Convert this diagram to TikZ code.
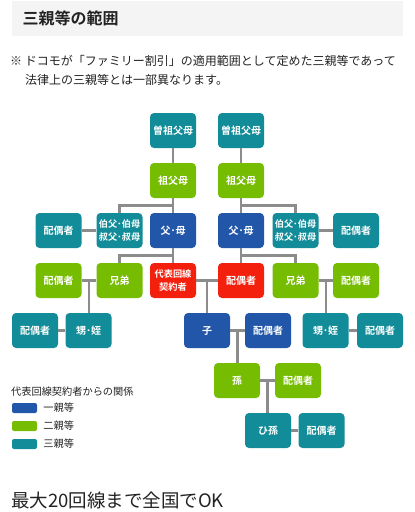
\documentclass[tikz,border=0pt]{standalone}
\usepackage{fontspec}
\setmainfont{Noto Sans CJK JP}[BoldFont={Noto Sans CJK JP Bold}]
\usepackage{xcolor}
\usepackage{tikz}
\usetikzlibrary{positioning,calc}
\definecolor{KinBlue}{HTML}{2156A8}
\definecolor{KinGreen}{HTML}{76BC00}
\definecolor{KinTeal}{HTML}{128C98}
\definecolor{KinRed}{HTML}{F4200E}
\definecolor{KinLine}{HTML}{8C8C8C}
\definecolor{KinBand}{HTML}{F4F4F4}
\definecolor{KinText}{HTML}{222222}

\begin{document}
\begin{tikzpicture}[x=1pt,y=-1pt,
  kin/.style={rounded corners=4pt,minimum width=46pt,minimum height=35pt,inner sep=0pt,
    text=white,align=center,font=\bfseries\fontsize{10}{12.5}\selectfont},
  twoline/.style={font=\bfseries\fontsize{9.2}{13}\selectfont},
  deg1/.style={kin,fill=KinBlue},
  deg2/.style={kin,fill=KinGreen},
  deg3/.style={kin,fill=KinTeal},
  holder/.style={kin,fill=KinRed},
  tie/.style={draw=KinLine,line width=2.5pt},
  swatch/.style={rounded corners=2pt,minimum width=25pt,minimum height=10pt,inner sep=0pt},
  legtext/.style={inner sep=0pt,text=KinText,font=\fontsize{10.2}{12}\selectfont}]
\path[use as bounding box] (0,0) rectangle (415,512);
% heading
\fill[KinBand] (12,1) rectangle (403,36);
\node[anchor=west,text=KinText,font=\bfseries\fontsize{16}{16}\selectfont] (title) at (19,18.5) {三親等の範囲};
\node[anchor=west,inner sep=0pt,text=KinText,font=\fontsize{12}{14}\selectfont] (note1) at (10,61) {※ ドコモが「ファミリー割引」の適用範囲として定めた三親等であって};
\node[anchor=west,inner sep=0pt,text=KinText,font=\fontsize{12}{14}\selectfont] (note2) at (25,80) {法律上の三親等とは一部異なります。};
% family tree
\node[deg3] (ggl) at (173,130.5) {曽祖父母};
\node[deg3] (ggr) at (241,130.5) {曽祖父母};
\node[deg2] (gpl) at (173,180.5) {祖父母};
\node[deg2] (gpr) at (241,180.5) {祖父母};
\node[deg3] (sul) at (58.5,230.5) {配偶者};
\node[deg3,twoline] (unl) at (119.5,230.5) {伯父･伯母\\叔父･叔母};
\node[deg1] (pal) at (173,230.5) {父･母};
\node[deg1] (par) at (241,230.5) {父･母};
\node[deg3,twoline] (unr) at (295.5,230.5) {伯父･伯母\\叔父･叔母};
\node[deg3] (sur) at (356,230.5) {配偶者};
\node[deg2] (ssl) at (58.5,280.5) {配偶者};
\node[deg2] (sbl) at (119.5,280.5) {兄弟};
\node[holder,twoline] (me) at (173,280.5) {代表回線\\契約者};
\node[holder] (sp) at (241,280.5) {配偶者};
\node[deg2] (sbr) at (295.5,280.5) {兄弟};
\node[deg2] (ssr) at (356,280.5) {配偶者};
\node[deg3] (nsl) at (35,330.5) {配偶者};
\node[deg3] (nnl) at (88.5,330.5) {甥･姪};
\node[deg1] (ch) at (207,330.5) {子};
\node[deg1] (chs) at (268,330.5) {配偶者};
\node[deg3] (nnr) at (325.5,330.5) {甥･姪};
\node[deg3] (nsr) at (380,330.5) {配偶者};
\node[deg2] (gc) at (237,380.5) {孫};
\node[deg2] (gcs) at (298,380.5) {配偶者};
\node[deg3] (ggc) at (268,430.5) {ひ孫};
\node[deg3] (ggcs) at (321.5,430.5) {配偶者};
% junctions
\coordinate (jl) at ($(gpl.south)!.5!(pal.north)$);
\coordinate (jr) at ($(gpr.south)!.5!(par.north)$);
\coordinate (kl) at ($(pal.south)!.5!(me.north)$);
\coordinate (kr) at ($(par.south)!.5!(sp.north)$);
\coordinate (ml) at ($(ssl.east)!.5!(sbl.west)$);
\coordinate (mc) at ($(me.east)!.5!(sp.west)$);
\coordinate (mr) at ($(sbr.east)!.5!(ssr.west)$);
\coordinate (mch) at ($(ch.east)!.5!(chs.west)$);
\coordinate (mgc) at ($(gc.east)!.5!(gcs.west)$);
% connectors
\draw[tie] (ggl) -- (gpl);
\draw[tie] (ggr) -- (gpr);
\draw[tie] (gpl) -- (pal);
\draw[tie] (gpr) -- (par);
\draw[tie] (jl) -| (unl);
\draw[tie] (jr) -| (unr);
\draw[tie] (sul) -- (unl);
\draw[tie] (unr) -- (sur);
\draw[tie] (pal) -- (me);
\draw[tie] (par) -- (sp);
\draw[tie] (kl) -| (sbl);
\draw[tie] (kr) -| (sbr);
\draw[tie] (ssl) -- (sbl);
\draw[tie] (ml) -- (ml |- nnl.north);
\draw[tie] (nsl) -- (nnl);
\draw[tie] (me) -- (sp);
\draw[tie] (mc) -- (mc |- ch.north);
\draw[tie] (sbr) -- (ssr);
\draw[tie] (mr) -- (mr |- nnr.north);
\draw[tie] (nnr) -- (nsr);
\draw[tie] (ch) -- (chs);
\draw[tie] (mch) -- (mch |- gc.north);
\draw[tie] (gc) -- (gcs);
\draw[tie] (mgc) -- (mgc |- ggc.north);
\draw[tie] (ggc) -- (ggcs);
% legend
\node[legtext,anchor=west] (legtitle) at (11,391.5) {代表回線契約者からの関係};
\node[swatch,fill=KinBlue] (key1) at (24.5,408) {};
\node[swatch,fill=KinGreen] (key2) at (24.5,426) {};
\node[swatch,fill=KinTeal] (key3) at (24.5,444) {};
\node[legtext,right=6pt of key1] (lab1) {一親等};
\node[legtext,right=6pt of key2] (lab2) {二親等};
\node[legtext,right=6pt of key3] (lab3) {三親等};
% footer
\node[anchor=west,inner sep=0pt,text=KinText,font=\fontsize{18.5}{20}\selectfont] (footer) at (11,500) {最大20回線まで全国でOK};
\end{tikzpicture}
\end{document}
